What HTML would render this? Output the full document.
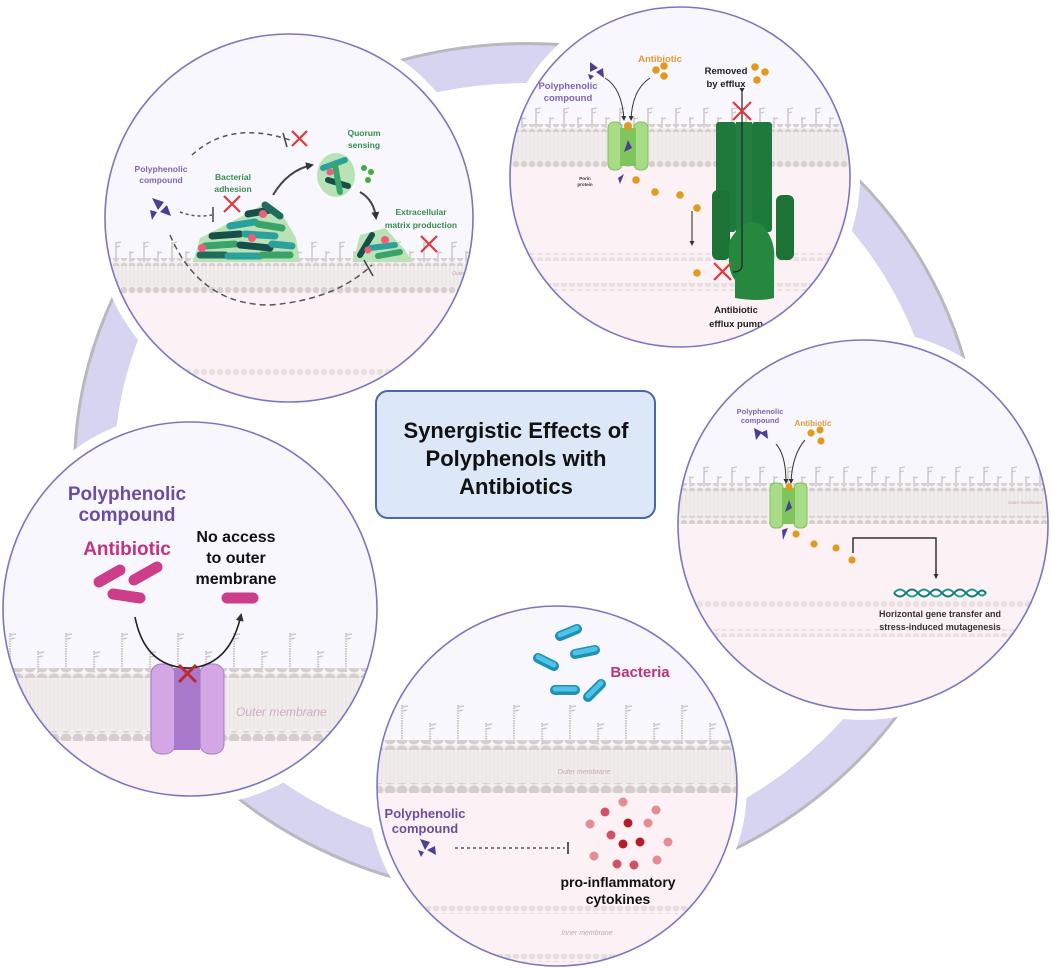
<!DOCTYPE html>
<html><head><meta charset="utf-8"><style>
html,body{margin:0;padding:0;background:#fff;}
svg{display:block;font-family:"Liberation Sans",sans-serif;}
</style></head><body>
<svg width="1052" height="968" viewBox="0 0 1052 968" xmlns="http://www.w3.org/2000/svg">
<defs>
 <pattern id="heads" width="8" height="8" patternUnits="userSpaceOnUse"><circle cx="4" cy="4" r="3.3" fill="#d8cfcf"/></pattern>
 <pattern id="headsB" width="12" height="10" patternUnits="userSpaceOnUse"><ellipse cx="6" cy="5" rx="5.5" ry="4.5" fill="#d6cdcd"/></pattern>
 <pattern id="tails" width="4" height="10" patternUnits="userSpaceOnUse"><line x1="2" y1="0" x2="2" y2="10" stroke="#e6dddd" stroke-width="1"/></pattern>
 <pattern id="stalks" width="28" height="22" patternUnits="userSpaceOnUse"><line x1="4" y1="2" x2="4" y2="22" stroke="#cfc7c7" stroke-width="1.5"/><path d="M4 3 L9 2 M4 7 L8 6" stroke="#cfc7c7" stroke-width="1.2"/><line x1="18" y1="11" x2="18" y2="22" stroke="#cfc7c7" stroke-width="1.5"/><path d="M18 13 L22 12" stroke="#cfc7c7" stroke-width="1.2"/></pattern>
 <pattern id="stalksB" width="56" height="42" patternUnits="userSpaceOnUse"><line x1="10" y1="2" x2="10" y2="42" stroke="#cfc7c7" stroke-width="2" stroke-dasharray="1.5 1"/><path d="M10 4 L16 3 M10 8 L15 7" stroke="#cfc7c7" stroke-width="1.5"/><line x1="38" y1="20" x2="38" y2="42" stroke="#cfc7c7" stroke-width="2" stroke-dasharray="1.5 1"/><path d="M38 22 L44 21 M38 26 L43 25" stroke="#cfc7c7" stroke-width="1.5"/></pattern>
 <clipPath id="c1"><circle cx="289" cy="218" r="184"/></clipPath>
 <clipPath id="c2"><circle cx="680" cy="177" r="170"/></clipPath>
 <clipPath id="c3"><circle cx="863" cy="525" r="185"/></clipPath>
 <clipPath id="c4"><circle cx="190" cy="609" r="187"/></clipPath>
 <clipPath id="c5"><circle cx="557" cy="786" r="180"/></clipPath>
 <marker id="ar" markerWidth="8" markerHeight="8" refX="6" refY="4" orient="auto" markerUnits="userSpaceOnUse"><path d="M0 0 L8 4 L0 8 Z" fill="#333"/></marker>
 <marker id="ars" markerWidth="5" markerHeight="5" refX="4" refY="2.5" orient="auto" markerUnits="userSpaceOnUse"><path d="M0 0 L5 2.5 L0 5 Z" fill="#333"/></marker>
</defs>

<ellipse cx="527" cy="470" rx="452" ry="426" fill="none" stroke="#b9b9bd" stroke-width="4"/>
<ellipse cx="527" cy="470" rx="432" ry="406" fill="none" stroke="#d6d4f0" stroke-width="38"/>

<g fill="#fff">
<circle cx="289" cy="218" r="194"/><circle cx="680" cy="177" r="180"/><circle cx="863" cy="525" r="195"/><circle cx="190" cy="609" r="197"/><circle cx="557" cy="786" r="190"/>
</g>

<!-- Circle 1 -->
<g clip-path="url(#c1)">
 <rect x="100" y="30" width="380" height="380" fill="#f8f7fd"/>
 <rect x="100" y="290" width="380" height="120" fill="#fcf1f4"/>
 <g transform="translate(0,262)">
  <rect x="100" y="-22" width="380" height="22" fill="url(#stalks)"/>
  <rect x="100" y="0" width="380" height="28" fill="#f3eeee"/>
  <rect x="100" y="4" width="380" height="20" fill="url(#tails)"/>
  <rect x="100" y="-4" width="380" height="8" fill="url(#heads)"/>
  <rect x="100" y="24" width="380" height="8" fill="url(#heads)"/>
 </g>
 <rect x="100" y="369" width="380" height="8" fill="url(#heads)" opacity="0.5"/>
 <text x="452" y="275" font-size="5" fill="#c9a5b5" font-style="italic">Outer membrane</text>
 <path d="M193 262 L200 238 L235 220 L262 205 L282 214 L296 238 L300 262 Z" fill="#b9e3b7"/>
 <g stroke-linecap="round" stroke-width="7">
  <line x1="200" y1="255" x2="225" y2="255" stroke="#1f6b5e"/><line x1="228" y1="256" x2="260" y2="256" stroke="#2aa19b"/>
  <line x1="262" y1="255" x2="290" y2="255" stroke="#3aa36a"/><line x1="205" y1="246" x2="235" y2="244" stroke="#3aa36a"/>
  <line x1="240" y1="245" x2="270" y2="248" stroke="#174f4a"/><line x1="272" y1="244" x2="292" y2="246" stroke="#2aa19b"/>
  <line x1="212" y1="236" x2="240" y2="234" stroke="#174f4a"/><line x1="245" y1="234" x2="275" y2="236" stroke="#2aa19b"/>
  <line x1="230" y1="226" x2="255" y2="222" stroke="#2aa19b"/><line x1="258" y1="224" x2="282" y2="228" stroke="#3aa36a"/>
  <line x1="248" y1="214" x2="270" y2="210" stroke="#174f4a"/><line x1="265" y1="205" x2="280" y2="216" stroke="#1f6b5e"/>
 </g>
 <circle cx="202" cy="248" r="4" fill="#ef5d7b"/><circle cx="263" cy="214" r="4" fill="#ef5d7b"/><circle cx="252" cy="238" r="4" fill="#ef5d7b"/>
 <ellipse cx="336" cy="175" rx="19" ry="22" fill="#b9e3b7"/>
 <g stroke-linecap="round" stroke-width="6"><line x1="323" y1="168" x2="345" y2="160" stroke="#2aa19b"/><line x1="328" y1="180" x2="348" y2="186" stroke="#174f4a"/><line x1="335" y1="165" x2="340" y2="192" stroke="#3aa36a"/></g>
 <circle cx="330" cy="172" r="3.5" fill="#ef5d7b"/>
 <circle cx="364" cy="168" r="3" fill="#3fae3f"/><circle cx="371" cy="172" r="3" fill="#3fae3f"/><circle cx="368" cy="180" r="3" fill="#3fae3f"/>
 <path d="M353 262 L360 235 L385 228 L405 250 L412 262 Z" fill="#b9e3b7"/>
 <g stroke-linecap="round" stroke-width="6"><line x1="360" y1="255" x2="372" y2="235" stroke="#174f4a"/><line x1="370" y1="248" x2="395" y2="245" stroke="#2aa19b"/><line x1="378" y1="256" x2="400" y2="252" stroke="#3aa36a"/></g>
 <circle cx="385" cy="240" r="4" fill="#ef5d7b"/><circle cx="368" cy="250" r="3.5" fill="#ef5d7b"/>
 <path d="M192 155 Q230 120 290 140" fill="none" stroke="#555" stroke-width="1.5" stroke-dasharray="5 4"/>
 <line x1="283" y1="133" x2="287" y2="147" stroke="#444" stroke-width="1.5"/>
 <path d="M180 212 Q195 218 212 215" fill="none" stroke="#555" stroke-width="1.5" stroke-dasharray="3 3"/>
 <line x1="213" y1="207" x2="213" y2="222" stroke="#444" stroke-width="1.5"/>
 <path d="M170 235 Q200 305 270 305 Q335 300 372 265" fill="none" stroke="#555" stroke-width="1.5" stroke-dasharray="6 4"/>
 <line x1="364" y1="260" x2="373" y2="276" stroke="#444" stroke-width="1.5"/>
 <path d="M273 195 Q288 170 312 165" fill="none" stroke="#444" stroke-width="2" marker-end="url(#ar)"/>
 <path d="M360 192 Q374 200 376 218" fill="none" stroke="#444" stroke-width="2" marker-end="url(#ar)"/>
 <path d="M152 198 L164 202 L158 210 Z M160 212 L167 205 L171 216 Z M150 210 L157 212 L152 220Z" fill="#4b3f90"/>
 <g font-weight="bold" font-size="8.5" text-anchor="middle">
  <text x="161" y="172" fill="#8066b0">Polyphenolic</text><text x="161" y="183" fill="#8066b0">compound</text>
  <text x="233" y="180" fill="#3b8a4f">Bacterial</text><text x="233" y="192" fill="#3b8a4f">adhesion</text>
  <text x="364" y="136" fill="#3b8a4f">Quorum</text><text x="364" y="148" fill="#3b8a4f">sensing</text>
  <text x="421" y="215" fill="#3b8a4f">Extracellular</text><text x="421" y="228" fill="#3b8a4f">matrix production</text>
 </g>
 <g stroke="#e0383c" stroke-width="2.2"><path d="M292 131 L307 146 M307 131 L292 146"/><path d="M224 196 L240 212 M240 196 L224 212"/><path d="M421 236 L437 252 M437 236 L421 252"/></g>
</g>
<circle cx="289" cy="218" r="184" fill="none" stroke="#7a77bf" stroke-width="1.6"/>

<!-- Circle 2 -->
<g clip-path="url(#c2)">
 <rect x="505" y="0" width="350" height="350" fill="#f8f7fd"/>
 <rect x="505" y="163" width="350" height="190" fill="#fcf1f4"/>
 <g transform="translate(0,128)">
  <rect x="505" y="-22" width="350" height="22" fill="url(#stalks)"/>
  <rect x="505" y="0" width="350" height="35" fill="#f3eeee"/>
  <rect x="505" y="4" width="350" height="27" fill="url(#tails)"/>
  <rect x="505" y="-4" width="350" height="8" fill="url(#heads)"/>
  <rect x="505" y="31" width="350" height="8" fill="url(#heads)"/>
 </g>
 <rect x="505" y="253" width="350" height="8" fill="url(#heads)" opacity="0.5"/>
 <rect x="505" y="283" width="350" height="8" fill="url(#heads)" opacity="0.5"/>
 <rect x="608" y="122" width="14" height="48" rx="6" fill="#a8dc86" stroke="#7fbf5c"/>
 <rect x="634" y="122" width="14" height="48" rx="6" fill="#a8dc86" stroke="#7fbf5c"/>
 <rect x="620" y="128" width="16" height="38" fill="#7fc55e"/>
 <path d="M624 152 L632 148 L628 140 Z" fill="#4b3f90"/>
 <circle cx="628" cy="126" r="4" fill="#e09a1e"/>
 <rect x="716" y="122" width="20" height="110" rx="3" fill="#1e7a3a"/>
 <rect x="736" y="122" width="16" height="110" fill="#237f40"/>
 <rect x="752" y="122" width="20" height="110" rx="3" fill="#1e7a3a"/>
 <rect x="712" y="190" width="18" height="70" rx="6" fill="#1d7236"/>
 <rect x="776" y="195" width="18" height="65" rx="6" fill="#1d7236"/>
 <path d="M730 240 Q745 215 762 225 Q776 240 774 260 L774 298 Q760 302 735 298 L735 280 Q726 270 730 240Z" fill="#26883f"/>
 <path d="M742 92 L742 265 Q742 272 733 272" fill="none" stroke="#222" stroke-width="1.2" marker-start="url(#ars)"/>
 <path d="M692 211 L692 245" stroke="#222" stroke-width="1" marker-end="url(#ars)"/>
 <g fill="#e09a1e"><circle cx="656" cy="70" r="3.8"/><circle cx="664" cy="66" r="3.8"/><circle cx="664" cy="76" r="3.8"/>
  <circle cx="755" cy="67" r="3.8"/><circle cx="765" cy="72" r="3.8"/><circle cx="757" cy="80" r="3.8"/>
  <circle cx="636" cy="180" r="3.8"/><circle cx="655" cy="192" r="3.8"/><circle cx="680" cy="195" r="3.8"/><circle cx="697" cy="208" r="3.8"/><circle cx="697" cy="273" r="3.8"/></g>
 <path d="M590 62 L598 68 L590 72 Z M596 72 L603 68 L604 78Z M588 74 L594 76 L590 80Z M618 178 L624 174 L620 184Z" fill="#4b3f90"/>
 <path d="M605 78 Q622 88 624 120" fill="none" stroke="#333" stroke-width="1" marker-end="url(#ars)"/>
 <path d="M650 78 Q632 90 631 120" fill="none" stroke="#333" stroke-width="1" marker-end="url(#ars)"/>
 <g stroke="#e0383c" stroke-width="2.2"><path d="M733 102 L751 120 M751 102 L733 120"/><path d="M714 263 L731 280 M731 263 L714 280"/></g>
 <g font-weight="bold" text-anchor="middle">
  <text x="660" y="62" font-size="9.5" fill="#e09a3a">Antibiotic</text>
  <text x="568" y="89" font-size="9.5" fill="#8066b0">Polyphenolic</text><text x="568" y="101" font-size="9.5" fill="#8066b0">compound</text>
  <text x="726" y="74" font-size="9.5" fill="#222">Removed</text><text x="726" y="87" font-size="9.5" fill="#222">by efflux</text>
  <text x="585" y="180" font-size="4.5" fill="#333">Porin</text><text x="585" y="186" font-size="4.5" fill="#333">protein</text>
  <text x="736" y="313" font-size="9.5" fill="#222">Antibiotic</text><text x="736" y="327" font-size="9.5" fill="#222">efflux pump</text>
 </g>
</g>
<circle cx="680" cy="177" r="170" fill="none" stroke="#7a77bf" stroke-width="1.6"/>

<!-- Circle 3 -->
<g clip-path="url(#c3)">
 <rect x="675" y="335" width="380" height="380" fill="#f8f7fd"/>
 <rect x="675" y="520" width="380" height="200" fill="#fcf1f4"/>
 <g transform="translate(0,487)">
  <rect x="675" y="-22" width="380" height="22" fill="url(#stalks)"/>
  <rect x="675" y="0" width="380" height="33" fill="#f3eeee"/>
  <rect x="675" y="4" width="380" height="25" fill="url(#tails)"/>
  <rect x="675" y="-4" width="380" height="8" fill="url(#heads)"/>
  <rect x="675" y="29" width="380" height="8" fill="url(#heads)"/>
 </g>
 <rect x="675" y="599" width="380" height="8" fill="url(#heads)" opacity="0.5"/>
 <rect x="675" y="629" width="380" height="8" fill="url(#heads)" opacity="0.5"/>
 <text x="1008" y="504" font-size="4.5" fill="#c9a5b5" font-style="italic">Outer membrane</text>
 <rect x="770" y="483" width="13" height="45" rx="5" fill="#a8dc86" stroke="#7fbf5c"/>
 <rect x="794" y="483" width="13" height="45" rx="5" fill="#a8dc86" stroke="#7fbf5c"/>
 <rect x="782" y="488" width="13" height="36" fill="#7fc55e"/>
 <path d="M785 512 L792 508 L789 500Z" fill="#4b3f90"/><circle cx="789" cy="487" r="3.6" fill="#e09a1e"/>
 <path d="M782 530 L788 528 L783 540Z M754 428 L762 432 L756 440Z M760 433 L767 430 L768 439Z" fill="#4b3f90"/>
 <g fill="#e09a1e"><circle cx="796" cy="534" r="3.6"/><circle cx="814" cy="544" r="3.6"/><circle cx="836" cy="548" r="3.6"/><circle cx="852" cy="560" r="3.6"/>
  <circle cx="811" cy="433" r="3.6"/><circle cx="820" cy="430" r="3.6"/><circle cx="821" cy="441" r="3.6"/></g>
 <path d="M776 444 Q786 455 786 483" fill="none" stroke="#333" stroke-width="1" marker-end="url(#ars)"/>
 <path d="M805 440 Q792 455 791 483" fill="none" stroke="#333" stroke-width="1" marker-end="url(#ars)"/>
 <path d="M853 553 L853 538 L936 538 L936 578" fill="none" stroke="#333" stroke-width="1.5" marker-end="url(#ars)"/>
 <path d="M894 593 Q900 586 906 593 Q912 600 918 593 Q924 586 930 593 Q936 600 942 593 Q948 586 954 593 Q960 600 966 593 Q972 586 978 593 Q982 598 986 593" fill="none" stroke="#1c9a9a" stroke-width="2"/>
 <path d="M894 593 Q900 600 906 593 Q912 586 918 593 Q924 600 930 593 Q936 586 942 593 Q948 600 954 593 Q960 586 966 593 Q972 600 978 593 Q982 588 986 593" fill="none" stroke="#167878" stroke-width="2"/>
 <g font-weight="bold" text-anchor="middle">
  <text x="760" y="414" font-size="7.5" fill="#8066b0">Polyphenolic</text><text x="760" y="423" font-size="7.5" fill="#8066b0">compound</text>
  <text x="813" y="426" font-size="8" fill="#e09a3a">Antibiotic</text>
  <text x="940" y="617" font-size="9" fill="#333">Horizontal gene transfer and</text>
  <text x="940" y="630" font-size="9" fill="#333">stress-induced mutagenesis</text>
 </g>
</g>
<circle cx="863" cy="525" r="185" fill="none" stroke="#7a77bf" stroke-width="1.6"/>

<!-- Circle 4 -->
<g clip-path="url(#c4)">
 <rect x="0" y="420" width="380" height="380" fill="#f8f7fd"/>
 <rect x="0" y="738" width="380" height="70" fill="#fcf1f4"/>
 <g transform="translate(0,673)">
  <rect x="0" y="-42" width="380" height="42" fill="url(#stalksB)"/>
  <rect x="0" y="0" width="380" height="62" fill="#f3eeee"/>
  <rect x="0" y="6" width="380" height="50" fill="url(#tails)"/>
  <rect x="0" y="-5" width="380" height="10" fill="url(#headsB)"/>
  <rect x="0" y="58" width="380" height="10" fill="url(#headsB)"/>
 </g>
 <text x="236" y="716" font-size="12" fill="#d1adc3" font-style="italic">Outer membrane</text>
 <rect x="151" y="664" width="24" height="90" rx="10" fill="#d4a6e6" stroke="#a47cc0"/>
 <rect x="200" y="664" width="24" height="90" rx="10" fill="#d4a6e6" stroke="#a47cc0"/>
 <rect x="174" y="668" width="26" height="82" fill="#a97acb"/>
 <path d="M135 617 Q145 668 190 668 Q230 665 241 615" fill="none" stroke="#222" stroke-width="1.6" marker-end="url(#ar)"/>
 <path d="M179 665 L196 682 M196 665 L179 682" stroke="#c0282d" stroke-width="3"/>
 <g stroke="#cc3d8a" stroke-width="11" stroke-linecap="round">
  <line x1="99" y1="582" x2="120" y2="570"/><line x1="134" y1="580" x2="157" y2="567"/><line x1="113" y1="594" x2="140" y2="598"/><line x1="227" y1="598" x2="253" y2="598"/>
 </g>
 <g font-weight="bold" text-anchor="middle">
  <text x="127" y="500" font-size="19" fill="#6d4d9f">Polyphenolic</text><text x="127" y="521" font-size="19" fill="#6d4d9f">compound</text>
  <text x="127" y="555" font-size="19" fill="#c2327f">Antibiotic</text>
  <text x="236" y="542" font-size="16" fill="#111">No access</text><text x="236" y="563" font-size="16" fill="#111">to outer</text><text x="236" y="584" font-size="16" fill="#111">membrane</text>
 </g>
</g>
<circle cx="190" cy="609" r="187" fill="none" stroke="#7a77bf" stroke-width="1.6"/>

<!-- Circle 5 -->
<g clip-path="url(#c5)">
 <rect x="370" y="600" width="380" height="370" fill="#f8f7fd"/>
 <rect x="370" y="788" width="380" height="180" fill="#fcf1f4"/>
 <g transform="translate(0,745)">
  <rect x="370" y="-42" width="380" height="42" fill="url(#stalksB)"/>
  <rect x="370" y="0" width="380" height="43" fill="#f3eeee"/>
  <rect x="370" y="5" width="380" height="34" fill="url(#tails)"/>
  <rect x="370" y="-5" width="380" height="10" fill="url(#headsB)"/>
  <rect x="370" y="38" width="380" height="10" fill="url(#headsB)"/>
 </g>
 <rect x="370" y="906" width="380" height="8" fill="url(#heads)" opacity="0.6"/>
 <rect x="370" y="954" width="380" height="8" fill="url(#heads)" opacity="0.6"/>
 <text x="584" y="774" font-size="7" fill="#c9a5b5" font-style="italic" text-anchor="middle">Outer membrane</text>
 <text x="587" y="935" font-size="7" fill="#c9a5b5" font-style="italic" text-anchor="middle">Inner membrane</text>
 <g stroke="#1f8fb8" stroke-width="10" stroke-linecap="round">
  <line x1="560" y1="636" x2="577" y2="629"/><line x1="538" y1="658" x2="554" y2="666"/><line x1="575" y1="654" x2="595" y2="650"/><line x1="555" y1="690" x2="575" y2="690"/><line x1="588" y1="697" x2="601" y2="684"/>
 </g>
 <g stroke="#4ec3e6" stroke-width="5" stroke-linecap="round">
  <line x1="560" y1="635" x2="577" y2="628"/><line x1="538" y1="657" x2="554" y2="665"/><line x1="575" y1="653" x2="595" y2="649"/><line x1="555" y1="689" x2="575" y2="689"/><line x1="588" y1="696" x2="601" y2="683"/>
 </g>
 <path d="M420 839 L430 842 L425 850Z M427 850 L435 846 L436 855Z M418 850 L424 852 L421 857Z" fill="#4b3f90"/>
 <line x1="455" y1="848" x2="565" y2="848" stroke="#555" stroke-width="1.5" stroke-dasharray="3 3"/>
 <line x1="568" y1="842" x2="568" y2="854" stroke="#333" stroke-width="1.6"/>
 <g fill="#e58b93"><circle cx="623" cy="802" r="4.5"/><circle cx="656" cy="810" r="4.5"/><circle cx="590" cy="824" r="4.5"/><circle cx="648" cy="823" r="4.5"/><circle cx="668" cy="842" r="4.5"/><circle cx="594" cy="856" r="4.5"/><circle cx="657" cy="860" r="4.5"/></g>
 <g fill="#d25360"><circle cx="605" cy="812" r="4.5"/><circle cx="611" cy="835" r="4.5"/><circle cx="617" cy="864" r="4.5"/><circle cx="634" cy="865" r="4.5"/></g>
 <g fill="#b51c2a"><circle cx="628" cy="823" r="4.5"/><circle cx="623" cy="844" r="4.5"/><circle cx="640" cy="842" r="4.5"/></g>
 <g font-weight="bold" text-anchor="middle">
  <text x="640" y="677" font-size="15" fill="#b8357a">Bacteria</text>
  <text x="425" y="818" font-size="13" fill="#6d4d9f">Polyphenolic</text><text x="425" y="833" font-size="13" fill="#6d4d9f">compound</text>
  <text x="618" y="887" font-size="14" fill="#111">pro-inflammatory</text><text x="618" y="904" font-size="14" fill="#111">cytokines</text>
 </g>
</g>
<circle cx="557" cy="786" r="180" fill="none" stroke="#7a77bf" stroke-width="1.6"/>

<rect x="376" y="391" width="279" height="127" rx="12" fill="#dce8f8" stroke="#4c67a8" stroke-width="2"/>
<g font-weight="bold" font-size="22" fill="#111" text-anchor="middle">
 <text x="516" y="438">Synergistic Effects of</text>
<text x="516" y="466">Polyphenols with</text>
<text x="516" y="494">Antibiotics</text>
</g>
</svg>
</body></html>
